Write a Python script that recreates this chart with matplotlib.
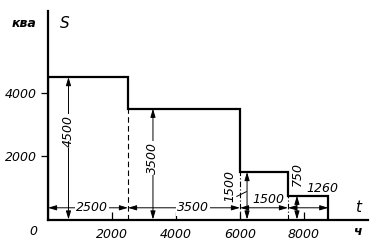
import matplotlib
matplotlib.use("Agg")
import matplotlib.pyplot as plt

# ---- data ----
t_edges = [0, 2500, 6000, 7500, 8760]          # hours
S_levels = [4500, 3500, 1500, 750]             # kVA
durations = [2500, 3500, 1500, 1260]
y_ticks = [2000, 4000]
y_tick_labels = ["2000", "4000"]
x_ticks = [2000, 4000, 6000, 8000]
x_tick_labels = ["2000", "4000", "6000", "8000"]

plt.rcParams['font.family'] = ['DejaVu Sans']
FS = 9
tkw = dict(fontsize=FS, style='italic', color='black')

W, H = 389, 250
fig = plt.figure(figsize=(W / 100, H / 100), dpi=100)
x0, x1, yb, yt = 48, 368, 219.5, 11
ax = fig.add_axes([x0 / W, (H - yb) / H, (x1 - x0) / W, (yb - yt) / H])
xmax = (x1 - x0) * 31.25
ymax = (yb - yt) * 31.6
ax.set_xlim(0, xmax)
ax.set_ylim(0, ymax)

for s in ['top', 'right']:
    ax.spines[s].set_visible(False)
for s in ['left', 'bottom']:
    ax.spines[s].set_linewidth(1.6)

ax.set_yticks(y_ticks)
ax.set_yticklabels(y_tick_labels, **tkw)
ax.set_xticks(x_ticks)
ax.set_xticklabels(x_tick_labels, **tkw)
ax.tick_params(axis='y', direction='out', length=5, width=0.9, pad=3)
ax.tick_params(axis='x', direction='in', length=6, width=0.9, pad=6)

# step outline
ax.stairs(S_levels, t_edges, color='black', lw=1.6, baseline=0, zorder=3)

# extension lines under the steps
ax.plot([t_edges[1]] * 2, [0, S_levels[1]], color='black', lw=0.8, ls=(0, (5, 3)))
ax.plot([t_edges[2]] * 2, [0, S_levels[2]], color='black', lw=0.8, ls=(0, (5, 2, 1, 2)))
ax.plot([t_edges[3]] * 2, [0, S_levels[3]], color='black', lw=0.8, ls=(0, (5, 2, 1, 2)))

arr = dict(arrowstyle='<|-|>,head_length=0.5,head_width=0.15', color='black', lw=0.7,
           shrinkA=0, shrinkB=0)

# vertical dimension lines
vx = [640, 3280, 6220, 7780]
for x, s in zip(vx, S_levels):
    ax.annotate('', xy=(x, 0), xytext=(x, s), arrowprops=arr, zorder=4)

bb = dict(boxstyle='square,pad=0.1', fc='white', ec='none')
ax.text(vx[0], 2800, f"{S_levels[0]}", rotation=90, ha='center', va='center', bbox=bb, zorder=5, **tkw)
ax.text(vx[1], 1950, f"{S_levels[1]}", rotation=90, ha='center', va='center', bbox=bb, zorder=5, **tkw)
ax.text(5690, 1050, f"{S_levels[2]}", rotation=90, ha='center', va='center', zorder=5, **tkw)
ax.plot([5900, 6200], [730, 880], color='black', lw=0.7)
ax.text(vx[3], 1450, f"{S_levels[3]}", rotation=90, ha='center', va='center', zorder=5, **tkw)

# horizontal dimension line
dy = 370
for a, b in zip(t_edges[:-1], t_edges[1:]):
    ax.annotate('', xy=(a, dy), xytext=(b, dy), arrowprops=arr, zorder=4)
ax.text(1375, dy, f"{durations[0]}", ha='center', va='center', bbox=bb, zorder=5, **tkw)
ax.text(4530, dy, f"{durations[1]}", ha='center', va='center', bbox=bb, zorder=5, **tkw)
ax.text(6875, 640, f"{durations[2]}", ha='center', va='center', zorder=5, **tkw)
ax.text(8560, 990, f"{durations[3]}", ha='center', va='center', zorder=5, **tkw)

# axis names
ax.text(-750, 6180, "ква", ha='center', va='center', fontsize=FS, style='italic', weight='bold')
ax.text(380, 6180, "S", ha='left', va='center', fontsize=11, style='italic')
ax.text(9700, 380, "t", ha='center', va='center', fontsize=11, style='italic')
ax.text(9700, -390, "ч", ha='center', va='center', fontsize=FS, style='italic', weight='bold')
ax.text(-470, -390, "0", ha='center', va='center', **tkw)

fig.savefig("out.png", dpi=100)
